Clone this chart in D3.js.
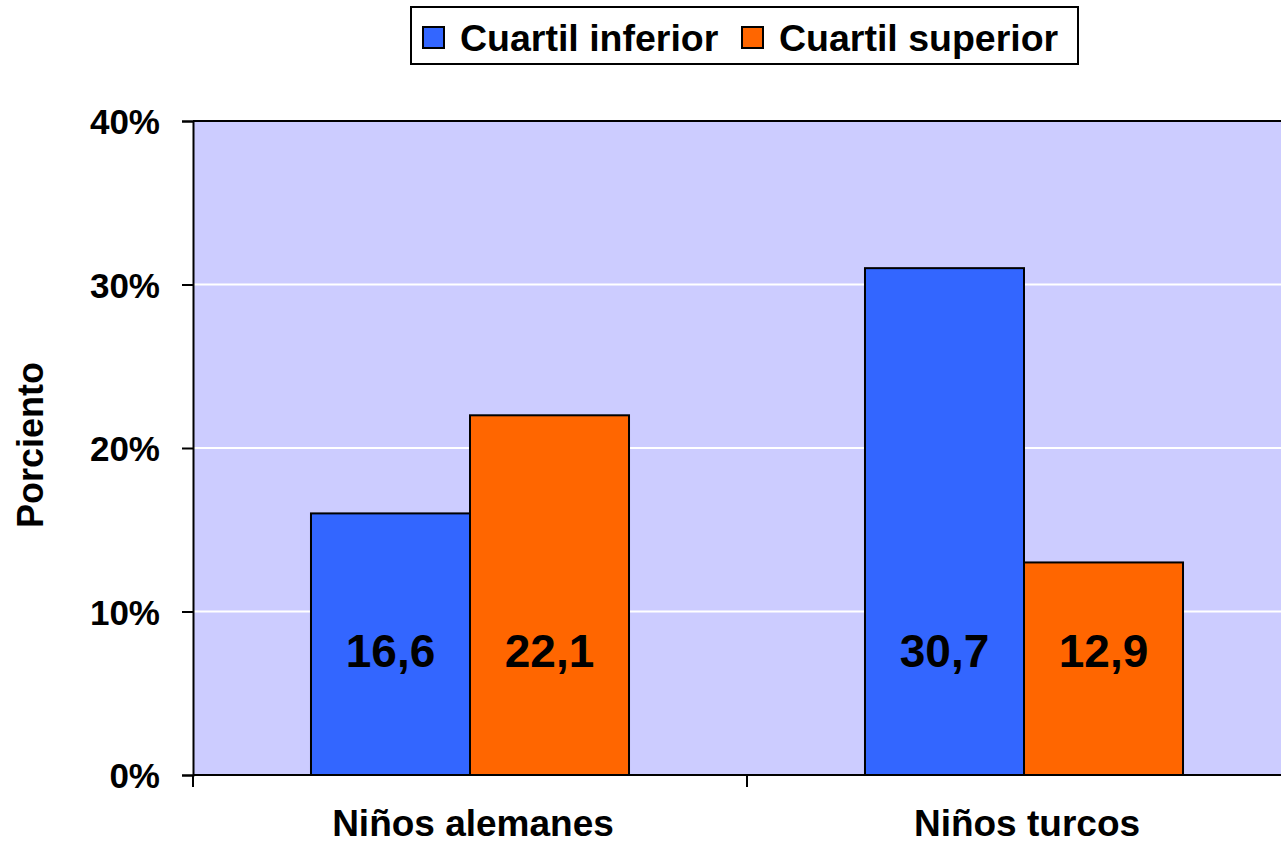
<!DOCTYPE html>
<html>
<head>
<meta charset="utf-8">
<script src="https://cdn.jsdelivr.net/npm/d3@7/dist/d3.min.js"></script>
<style>
  html, body { margin: 0; padding: 0; background: #ffffff; }
  svg { display: block; }
  text { font-family: "Liberation Sans", Arial, Helvetica, sans-serif; font-weight: bold; fill: #000; }
</style>
</head>
<body>
<script>
// ---- data ----
const categories = ["Niños alemanes", "Niños turcos"];
const seriesNames = ["Cuartil inferior", "Cuartil superior"];
const seriesColors = ["#3366FF", "#FF6600"];
const inferiorValues = [16.0, 31.0];   // bar heights as drawn (%)
const superiorValues = [22.0, 13.0];
const inferiorLabels = ["16,6", "30,7"];
const superiorLabels = ["22,1", "12,9"];
const yTicks = [0, 10, 20, 30, 40];
const yTickLabels = ["0%", "10%", "20%", "30%", "40%"];
const yTitle = "Porciento";

// ---- layout ----
const W = 1281, H = 845;
const plot = { left: 193, right: 1301, top: 121, bottom: 775 };

const svg = d3.select("body").append("svg").attr("width", W).attr("height", H);

const x0 = d3.scaleBand().domain(categories).range([plot.left, plot.right]).paddingInner(0).paddingOuter(0);
const x1 = d3.scaleBand().domain(seriesNames).range([0, x0.bandwidth()]).paddingInner(0).paddingOuter(0.742);
const y = d3.scaleLinear().domain([0, 40]).range([plot.bottom, plot.top]);

// plot background
svg.append("rect")
  .attr("x", plot.left).attr("y", plot.top)
  .attr("width", plot.right - plot.left).attr("height", plot.bottom - plot.top)
  .attr("fill", "#CCCCFF");

// gridlines
svg.append("g").selectAll("line").data(yTicks.filter(t => t > 0 && t < 40)).join("line")
  .attr("x1", plot.left).attr("x2", plot.right)
  .attr("y1", d => y(d)).attr("y2", d => y(d))
  .attr("stroke", "#ffffff").attr("stroke-width", 2);

// top border
svg.append("line")
  .attr("x1", plot.left).attr("x2", plot.right)
  .attr("y1", y(40)).attr("y2", y(40))
  .attr("stroke", "#000").attr("stroke-width", 2);

// bars
const rows = categories.map((c, i) => ({
  cat: c,
  items: [
    { s: seriesNames[0], v: inferiorValues[i], lab: inferiorLabels[i], col: seriesColors[0] },
    { s: seriesNames[1], v: superiorValues[i], lab: superiorLabels[i], col: seriesColors[1] }
  ]
}));

const groups = svg.append("g").selectAll("g").data(rows).join("g")
  .attr("transform", d => `translate(${x0(d.cat)},0)`);

groups.selectAll("rect").data(d => d.items).join("rect")
  .attr("x", d => x1(d.s))
  .attr("y", d => y(d.v))
  .attr("width", x1.bandwidth())
  .attr("height", d => y(0) - y(d.v))
  .attr("fill", d => d.col)
  .attr("stroke", "#000").attr("stroke-width", 2);

groups.selectAll("text.val").data(d => d.items).join("text")
  .attr("class", "val")
  .attr("x", d => x1(d.s) + x1.bandwidth() / 2)
  .attr("y", y(6.6))
  .attr("text-anchor", "middle")
  .style("font-size", "46px")
  .text(d => d.lab);

// y axis
const yAxis = d3.axisLeft(y).tickValues(yTicks).tickFormat((d, i) => yTickLabels[i])
  .tickSize(11).tickPadding(22);
const gy = svg.append("g").attr("transform", `translate(${plot.left},0)`).call(yAxis);
gy.select(".domain").attr("stroke", "#000").attr("stroke-width", 2);
gy.selectAll(".tick line").attr("stroke", "#000").attr("stroke-width", 2);
gy.selectAll(".tick text").style("font-size", "35px")
  .style("font-family", "'Liberation Sans', Arial, sans-serif").style("font-weight", "bold")
  .attr("fill", "#000").attr("dy", "0.36em");

// x axis
const xEdges = d3.scaleLinear().domain([0, categories.length]).range([plot.left, plot.right]);
const gx = svg.append("g");
gx.append("line").attr("x1", plot.left).attr("x2", plot.right)
  .attr("y1", plot.bottom).attr("y2", plot.bottom)
  .attr("stroke", "#000").attr("stroke-width", 2);
gx.selectAll("line.tk").data(d3.range(categories.length + 1)).join("line")
  .attr("class", "tk")
  .attr("x1", d => xEdges(d)).attr("x2", d => xEdges(d))
  .attr("y1", plot.bottom).attr("y2", plot.bottom + 12)
  .attr("stroke", "#000").attr("stroke-width", 2);
gx.selectAll("text").data(categories).join("text")
  .attr("x", d => x0(d) + x0.bandwidth() / 2 + 3)
  .attr("y", 836)
  .attr("text-anchor", "middle")
  .style("font-size", "37px")
  .text(d => d);

// y title
svg.append("text")
  .attr("transform", `translate(43,${(362 + 528) / 2}) rotate(-90)`)
  .attr("text-anchor", "middle")
  .style("font-size", "36px")
  .text(yTitle);

// legend
const leg = svg.append("g");
leg.append("rect").attr("x", 411).attr("y", 7).attr("width", 667).attr("height", 57)
  .attr("fill", "#fff").attr("stroke", "#000").attr("stroke-width", 2);
const legX = [423, 742];
seriesNames.forEach((s, i) => {
  leg.append("rect").attr("x", legX[i]).attr("y", 27).attr("width", 21).attr("height", 21)
    .attr("fill", seriesColors[i]).attr("stroke", "#000").attr("stroke-width", 2);
  leg.append("text").attr("x", legX[i] + 37).attr("y", 51)
    .style("font-size", "37.5px").text(s);
});
</script>
</body>
</html>
